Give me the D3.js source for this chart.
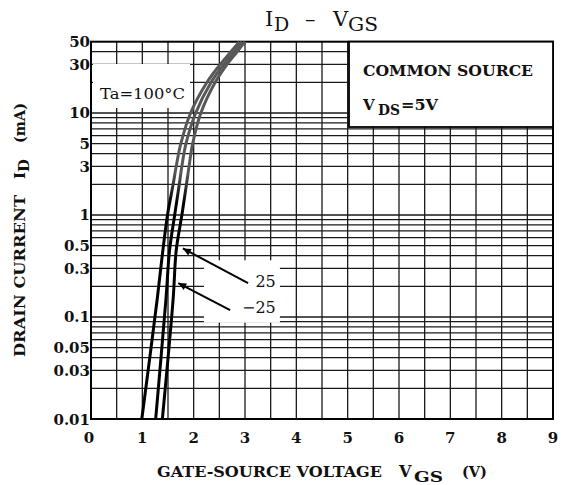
<!DOCTYPE html>
<html>
<head>
<meta charset="utf-8">
<script src="https://cdn.jsdelivr.net/npm/d3@7"></script>
<style>
  body { margin: 0; background: #fff; }
  svg { display: block; }
  text { font-family: "DejaVu Serif", "Liberation Serif", serif; fill: #111; }
</style>
</head>
<body>
<div id="chart"></div>
<script>
// ID - VGS transfer curves
const xTicks = [0, 1, 2, 3, 4, 5, 6, 7, 8, 9];
const yTicks = [50, 30, 10, 5, 3, 1, 0.5, 0.3, 0.1, 0.05, 0.03, 0.01];
const yTickLabels = ["50", "30", "10", "5", "3", "1", "0.5", "0.3", "0.1", "0.05", "0.03", "0.01"];

// drain current levels (mA) and the gate voltage each curve reaches them at
const currentLevels = [0.01, 0.15, 0.45, 1, 2, 3, 5, 10, 20, 30, 40, 50];
const vgsTa100 = [0.99, 1.29, 1.40, 1.49, 1.60, 1.66, 1.75, 1.94, 2.26, 2.52, 2.73, 2.89];
const vgsTa25 = [1.26, 1.46, 1.53, 1.63, 1.72, 1.77, 1.85, 2.04, 2.34, 2.59, 2.79, 2.94];
const vgsTaMinus25 = [1.39, 1.60, 1.66, 1.77, 1.86, 1.91, 1.98, 2.14, 2.42, 2.65, 2.85, 3.00];

const curves = [vgsTa100, vgsTa25, vgsTaMinus25];

// arrow callouts: tail and tip in (V, mA)
const callouts = [
  { label: "25", labelAt: [3.6, 0.197], tail: [3.06, 0.215], tip: [1.79, 0.47] },
  { label: "\u221225", labelAt: [3.6, 0.109], tail: [2.71, 0.117], tip: [1.70, 0.215] },
];

const width = 561, height = 485;

const svg = d3.select("#chart").append("svg")
  .attr("width", width)
  .attr("height", height);

const x = d3.scaleLinear().domain([0, 9]).range([91, 553]);
const y = d3.scaleLog().domain([0.01, 50]).range([419, 41.7]);

const defs = svg.append("defs");

// the upper part of the curves is printed grey in the scan
const grad = defs.append("linearGradient")
  .attr("id", "curveShade")
  .attr("gradientUnits", "userSpaceOnUse")
  .attr("x1", 0).attr("x2", 0)
  .attr("y1", y(2.6)).attr("y2", y(1.3));
grad.append("stop").attr("offset", 0).attr("stop-color", "#585858");
grad.append("stop").attr("offset", 1).attr("stop-color", "#000");

defs.append("marker")
  .attr("id", "arrow")
  .attr("viewBox", "0 0 10 10")
  .attr("refX", 10).attr("refY", 5)
  .attr("markerUnits", "userSpaceOnUse")
  .attr("markerWidth", 10).attr("markerHeight", 8)
  .attr("orient", "auto")
  .append("path")
  .attr("d", "M0,0.5 L10,5 L0,9.5 z")
  .attr("fill", "#000");

//grid
const grid = svg.append("g").attr("stroke", "#1a1a1a").attr("stroke-width", 1.3);

grid.selectAll("line.v")
  .data(d3.range(0.5, 9, 0.5))
  .join("line")
  .attr("class", "v")
  .attr("x1", d => x(d)).attr("x2", d => x(d))
  .attr("y1", y(50)).attr("y2", y(0.01));

grid.selectAll("line.h")
  .data(y.ticks().filter(d => d > 0.01 && d < 50))
  .join("line")
  .attr("class", "h")
  .attr("x1", x(0)).attr("x2", x(9))
  .attr("y1", d => y(d)).attr("y2", d => y(d));

// white patches of the original behind the annotations
svg.append("rect")
  .attr("x", 93).attr("y", 64).attr("width", 97).attr("height", 44)
  .attr("fill", "#fff");
svg.append("rect")
  .attr("x", x(2.2)).attr("y", y(0.36)).attr("width", x(3.68) - x(2.2))
  .attr("height", y(0.088) - y(0.36))
  .attr("fill", "#fff");

// plot frame
svg.append("rect")
  .attr("x", x(0)).attr("y", y(50))
  .attr("width", x(9) - x(0)).attr("height", y(0.01) - y(50))
  .attr("fill", "none").attr("stroke", "#000").attr("stroke-width", 2);

// curves
const line = d3.line()
  .x(d => x(d[0]))
  .y(d => y(d[1]))
  .curve(d3.curveCatmullRom.alpha(0.5));

svg.selectAll("path.curve")
  .data(curves)
  .join("path")
  .attr("class", "curve")
  .attr("d", vs => line(vs.map((v, i) => [v, currentLevels[i]])))
  .attr("fill", "none")
  .attr("stroke", "url(#curveShade)")
  .attr("stroke-width", 3);

// callouts
svg.selectAll("line.callout")
  .data(callouts)
  .join("line")
  .attr("class", "callout")
  .attr("x1", d => x(d.tail[0])).attr("y1", d => y(d.tail[1]))
  .attr("x2", d => x(d.tip[0])).attr("y2", d => y(d.tip[1]))
  .attr("stroke", "#000").attr("stroke-width", 2)
  .attr("marker-end", "url(#arrow)");

svg.selectAll("text.callout")
  .data(callouts)
  .join("text")
  .attr("class", "callout")
  .attr("x", d => x(d.labelAt[0])).attr("y", d => y(d.labelAt[1]))
  .attr("text-anchor", "end")
  .attr("font-size", 16)
  .text(d => d.label);

// Ta label
svg.append("text")
  .attr("x", 100).attr("y", 99)
  .attr("font-size", 15)
  .attr("textLength", 85).attr("lengthAdjust", "spacingAndGlyphs")
  .text("Ta=100\u00b0C");

// legend box
svg.append("rect")
  .attr("x", 349).attr("y", y(50))
  .attr("width", x(9) - 349).attr("height", 127 - y(50))
  .attr("fill", "#fff").attr("stroke", "#000").attr("stroke-width", 1.8);

svg.append("text")
  .attr("x", 363).attr("y", 76)
  .attr("font-size", 15).attr("font-weight", "bold")
  .attr("textLength", 170).attr("lengthAdjust", "spacingAndGlyphs")
  .text("COMMON SOURCE");
svg.append("text")
  .attr("x", 363).attr("y", 110)
  .attr("font-size", 15).attr("font-weight", "bold")
  .text("V");
svg.append("text")
  .attr("x", 378).attr("y", 115)
  .attr("font-size", 14).attr("font-weight", "bold")
  .attr("textLength", 22).attr("lengthAdjust", "spacingAndGlyphs")
  .text("DS");
svg.append("text")
  .attr("x", 401).attr("y", 110)
  .attr("font-size", 15).attr("font-weight", "bold")
  .attr("textLength", 37).attr("lengthAdjust", "spacingAndGlyphs")
  .text("=5V");

// tick labels
svg.selectAll("text.xtick")
  .data(xTicks)
  .join("text")
  .attr("class", "xtick")
  .attr("x", d => x(d) - (d === 0 ? 2 : 0))
  .attr("y", 443)
  .attr("text-anchor", "middle")
  .attr("font-size", 15).attr("font-weight", "bold")
  .text(d => d);

svg.selectAll("text.ytick")
  .data(yTicks)
  .join("text")
  .attr("class", "ytick")
  .attr("x", 90)
  .attr("y", d => y(d) + 5.5)
  .attr("text-anchor", "end")
  .attr("font-size", 15).attr("font-weight", "bold")
  .text((d, i) => yTickLabels[i]);

// title
const title = svg.append("g").attr("font-size", 21);
title.append("text").attr("x", 265).attr("y", 26).text("I");
title.append("text").attr("x", 274).attr("y", 31).attr("font-size", 19).text("D");
title.append("text").attr("x", 305).attr("y", 26).text("\u2013");
title.append("text").attr("x", 333).attr("y", 26).text("V");
title.append("text").attr("x", 348).attr("y", 31).attr("font-size", 18)
  .attr("textLength", 30).attr("lengthAdjust", "spacingAndGlyphs").text("GS");

// x axis title
const xt = svg.append("g").attr("font-size", 15).attr("font-weight", "bold");
xt.append("text").attr("x", 157).attr("y", 477)
  .attr("textLength", 225).attr("lengthAdjust", "spacingAndGlyphs")
  .text("GATE-SOURCE VOLTAGE");
xt.append("text").attr("x", 399).attr("y", 477).attr("font-size", 16).text("V");
xt.append("text").attr("x", 414).attr("y", 482)
  .attr("textLength", 29).attr("lengthAdjust", "spacingAndGlyphs").text("GS");
xt.append("text").attr("x", 462).attr("y", 477)
  .attr("textLength", 25).attr("lengthAdjust", "spacingAndGlyphs").text("(V)");

// y axis title, reads bottom to top
const yt = svg.append("g")
  .attr("transform", "translate(25,357) rotate(-90)")
  .attr("font-size", 15).attr("font-weight", "bold");
yt.append("text").attr("x", 0).attr("y", 0)
  .attr("textLength", 162).attr("lengthAdjust", "spacingAndGlyphs")
  .text("DRAIN CURRENT");
yt.append("text").attr("x", 178).attr("y", 0).text("I");
yt.append("text").attr("x", 185).attr("y", 4).text("D");
yt.append("text").attr("x", 214).attr("y", 0)
  .attr("textLength", 40).attr("lengthAdjust", "spacingAndGlyphs")
  .text("(mA)");
</script>
</body>
</html>
